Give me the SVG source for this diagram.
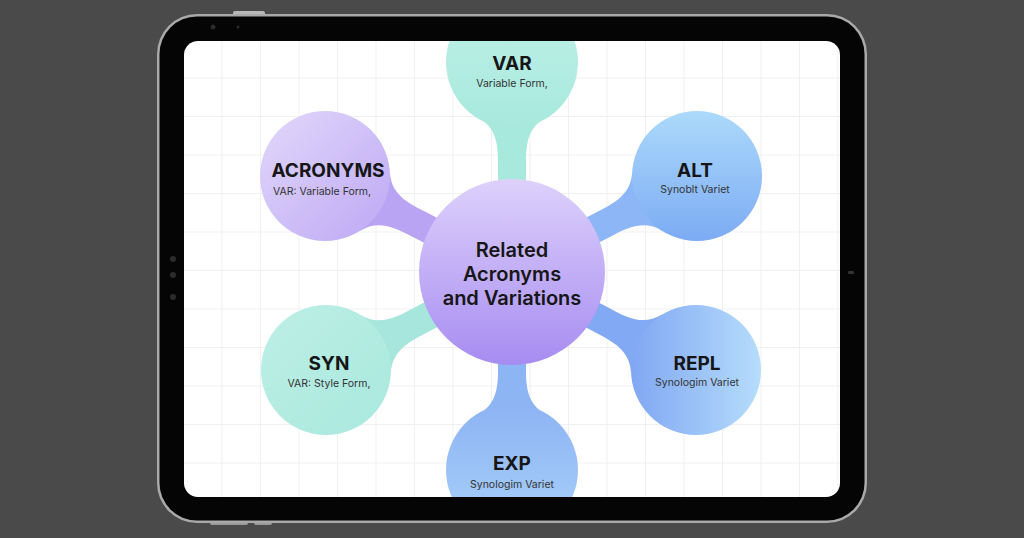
<svg xmlns="http://www.w3.org/2000/svg" width="1024" height="538" viewBox="0 0 1024 538">
<defs>
<style>
.t{font-family:Inter,"Noto Sans","Liberation Sans",sans-serif;font-weight:700;font-size:19px;fill:#161616;text-anchor:middle}
.s{font-family:Inter,"Noto Sans","Liberation Sans",sans-serif;font-weight:400;font-size:10.5px;fill:#333333;text-anchor:middle}
.c{font-family:Inter,"Noto Sans","Liberation Sans",sans-serif;font-weight:600;font-size:20px;fill:#161616;text-anchor:middle}
</style>
<pattern id="grid" patternUnits="userSpaceOnUse" x="221.5" y="77.5" width="38.5" height="38.5">
<path d="M0 0.5H38.5M0.5 0V38.5" stroke="#f0f0f0" stroke-width="1" fill="none"/>
</pattern>
<clipPath id="scr"><rect x="184" y="41" width="656" height="456" rx="14"/></clipPath>
<linearGradient id="gC" x1="0" y1="0" x2="0" y2="1"><stop offset="0" stop-color="#ddd1fb"/><stop offset="1" stop-color="#a78cf1"/></linearGradient>
<linearGradient id="gA" x1="0" y1="0" x2="1" y2="1"><stop offset="0" stop-color="#e2d8fb"/><stop offset="1" stop-color="#bda8f4"/></linearGradient>
<linearGradient id="gV" x1="0" y1="0" x2="0" y2="1"><stop offset="0" stop-color="#c0f1e8"/><stop offset="1" stop-color="#a7e8dd"/></linearGradient>
<linearGradient id="gL" x1="0" y1="0" x2="0" y2="1"><stop offset="0" stop-color="#acdafb"/><stop offset="1" stop-color="#7cabf4"/></linearGradient>
<linearGradient id="gS" x1="0" y1="0" x2="1" y2="1"><stop offset="0" stop-color="#bdefe6"/><stop offset="1" stop-color="#a9e8dd"/></linearGradient>
<linearGradient id="gR" x1="0" y1="0" x2="1" y2="0"><stop offset="0" stop-color="#80a7f3"/><stop offset="1" stop-color="#b6ddfb"/></linearGradient>
<linearGradient id="gE" x1="0" y1="0" x2="0" y2="1"><stop offset="0" stop-color="#8db3f3"/><stop offset="1" stop-color="#a9d2fa"/></linearGradient>
<path id="stem" d="M56,-33 C66,-16 82,-14 100,-14 L140,-14 L140,14 L100,14 C82,14 66,16 56,33 Z"/>
</defs>
<rect width="1024" height="538" fill="#4a4a4a"/>
<g id="tablet">
<rect x="233" y="11" width="32" height="6" rx="2" fill="#b8b8b8"/>
<rect x="210" y="520" width="38" height="5" rx="2" fill="#9a9a9a"/>
<rect x="254" y="520" width="18" height="5" rx="2" fill="#9a9a9a"/>
<rect x="157" y="14" width="710" height="509" rx="40" fill="#a9a9a9"/>
<rect x="159.5" y="16.5" width="705" height="504" rx="37.5" fill="#050505"/>
<circle cx="213" cy="27" r="2.5" fill="#2a2a2a"/>
<circle cx="238" cy="27" r="1.5" fill="#2a2a2a"/>
<circle cx="173" cy="259" r="3" fill="#2c2c2c"/>
<circle cx="173" cy="275" r="3" fill="#2c2c2c"/>
<circle cx="173" cy="297" r="3" fill="#2c2c2c"/>
<rect x="848" y="271" width="6" height="3" rx="1" fill="#333"/>
<rect x="184" y="41" width="656" height="456" rx="14" fill="#ffffff"/>
<rect x="184" y="41" width="656" height="456" rx="14" fill="url(#grid)"/>
</g>
<g clip-path="url(#scr)">
<g id="connectors">
<use href="#stem" fill="#a8e9dd" transform="translate(512,62) rotate(90)"/>
<use href="#stem" fill="#b9a3f3" transform="translate(325,176) rotate(27.2)"/>
<use href="#stem" fill="#8cb6f5" transform="translate(697,176) rotate(152.6)"/>
<use href="#stem" fill="#a6e6dc" transform="translate(326,370) rotate(-27.8)"/>
<use href="#stem" fill="#82a9f3" transform="translate(696,370) rotate(-152)"/>
<use href="#stem" fill="#8db5f3" transform="translate(512,470) rotate(-90)"/>
</g>
<g id="var"><circle cx="512" cy="62" r="66" fill="url(#gV)"/><text class="t" x="512" y="70">VAR</text><text class="s" x="512" y="87">Variable Form,</text></g>
<g id="acronyms"><circle cx="325" cy="176" r="65" fill="url(#gA)"/><text class="t" x="328" y="177">ACRONYMS</text><text class="s" x="322" y="195">VAR: Variable Form,</text></g>
<g id="alt"><circle cx="697" cy="176" r="65" fill="url(#gL)"/><text class="t" x="695" y="177">ALT</text><text class="s" x="695" y="193">Synoblt Variet</text></g>
<g id="syn"><circle cx="326" cy="370" r="65" fill="url(#gS)"/><text class="t" x="329" y="370">SYN</text><text class="s" x="329" y="387">VAR: Style Form,</text></g>
<g id="repl"><circle cx="696" cy="370" r="65" fill="url(#gR)"/><text class="t" x="697" y="370">REPL</text><text class="s" x="697" y="386">Synologim Variet</text></g>
<g id="exp"><circle cx="512" cy="470" r="66" fill="url(#gE)"/><text class="t" x="512" y="470">EXP</text><text class="s" x="512" y="488">Synologim Variet</text></g>
<g id="center"><circle cx="512" cy="272" r="93" fill="url(#gC)"/><text class="c" x="512" y="257">Related</text><text class="c" x="512" y="281">Acronyms</text><text class="c" x="512" y="305">and Variations</text></g>
</g>
</svg>
